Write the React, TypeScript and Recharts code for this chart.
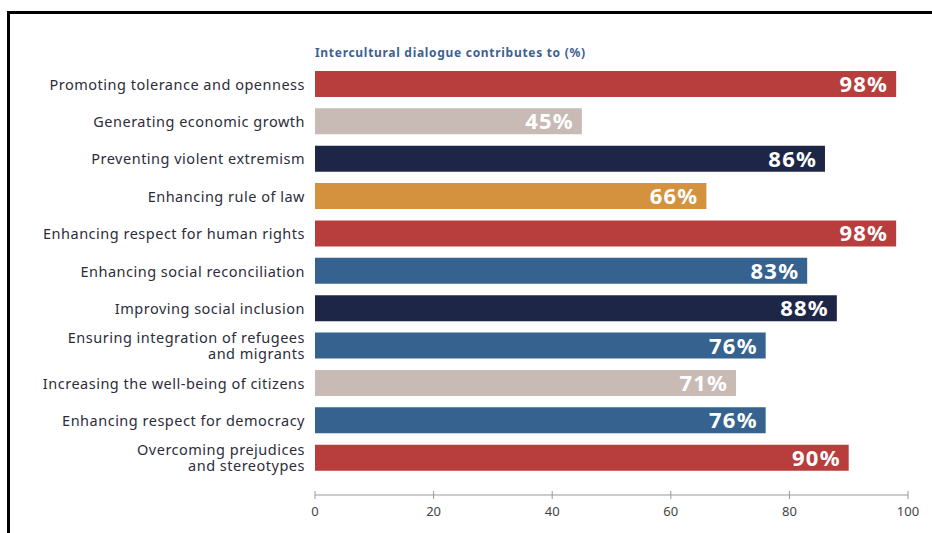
import { BarChart, Bar, XAxis, YAxis, Cell, LabelList } from "recharts";

const categories = [
  "Promoting tolerance and openness",
  "Generating economic growth",
  "Preventing violent extremism",
  "Enhancing rule of law",
  "Enhancing respect for human rights",
  "Enhancing social reconciliation",
  "Improving social inclusion",
  "Ensuring integration of refugees\nand migrants",
  "Increasing the well-being of citizens",
  "Enhancing respect for democracy",
  "Overcoming prejudices\nand stereotypes",
];
const values = [98, 45, 86, 66, 98, 83, 88, 76, 71, 76, 90];
const barColors = [
  "#b83e3d", "#c8bab5", "#1d2647", "#d4923e", "#b83e3d", "#35628f",
  "#1d2647", "#35628f", "#c8bab5", "#35628f", "#b83e3d",
];
const xTicks = [0, 20, 40, 60, 80, 100];

const data = categories.map((name, i) => ({ name, value: values[i] }));

const FONT = "'Noto Sans', sans-serif";

function CategoryTick(props: any) {
  const { x, y, payload } = props;
  const lines = String(payload.value).split("\n");
  const lh = 16;
  const start = y - ((lines.length - 1) * lh) / 2;
  return (
    <g>
      {lines.map((l, i) => (
        <text key={i} x={x} y={start + i * lh} textAnchor="end" dominantBaseline="central"
          fontSize={14.5} letterSpacing={0.5} fill="#2d2d3a" fontFamily={FONT}>
          {l}
        </text>
      ))}
    </g>
  );
}

function ValueTick(props: any) {
  const { x, y, payload } = props;
  return (
    <g>
      <line x1={x} x2={x} y1={y - 4} y2={y + 4} stroke="#999" strokeWidth={1} />
      <text x={x} y={y + 21} textAnchor="middle" fontSize={13} fill="#444" fontFamily={FONT}>
        {payload.value}
      </text>
    </g>
  );
}

function ValueLabel(props: any) {
  const { x, y, width, height, value } = props;
  return (
    <text x={x + width - 8} y={y + height / 2 - 1} textAnchor="end" dominantBaseline="central"
      fontSize={22} fontWeight={700} letterSpacing={1.2} fill="#fff" fontFamily={FONT}>
      {value}%
    </text>
  );
}

export default function App() {
  return (
    <div style={{ position: "absolute", left: 0, top: 0, width: 932, height: 533, background: "#fff", overflow: "hidden" }}>
      <div style={{ position: "absolute", left: 7, top: 11, width: 960, height: 560, border: "3px solid #000" }} />
      <div style={{ position: "absolute", left: 315, top: 44, fontFamily: FONT, fontSize: 12, fontWeight: 700,
        letterSpacing: 0.7, color: "#3f5f93", whiteSpace: "nowrap" }}>
        Intercultural dialogue contributes to (%)
      </div>
      <div style={{ position: "absolute", left: 0, top: 0 }}>
        <BarChart
          width={932}
          height={533}
          data={data}
          layout="vertical"
          margin={{ top: 65, right: 24, bottom: 8, left: 0 }}
          barSize={26}
        >
          <XAxis
            type="number"
            domain={[0, 100]}
            ticks={xTicks}
            height={30}
            tickSize={0}
            tickMargin={0}
            axisLine={{ stroke: "#999" }}
            tickLine={false}
            tick={<ValueTick />}
          />
          <YAxis
            type="category"
            dataKey="name"
            width={315}
            axisLine={false}
            tickLine={false}
            tickSize={0}
            tickMargin={10}
            padding={{ top: 0, bottom: 19 }}
            interval={0}
            tick={<CategoryTick />}
          />
          <Bar dataKey="value" isAnimationActive={false}>
            {data.map((d, i) => (
              <Cell key={d.name} fill={barColors[i]} />
            ))}
            <LabelList dataKey="value" content={<ValueLabel />} />
          </Bar>
        </BarChart>
      </div>
    </div>
  );
}
